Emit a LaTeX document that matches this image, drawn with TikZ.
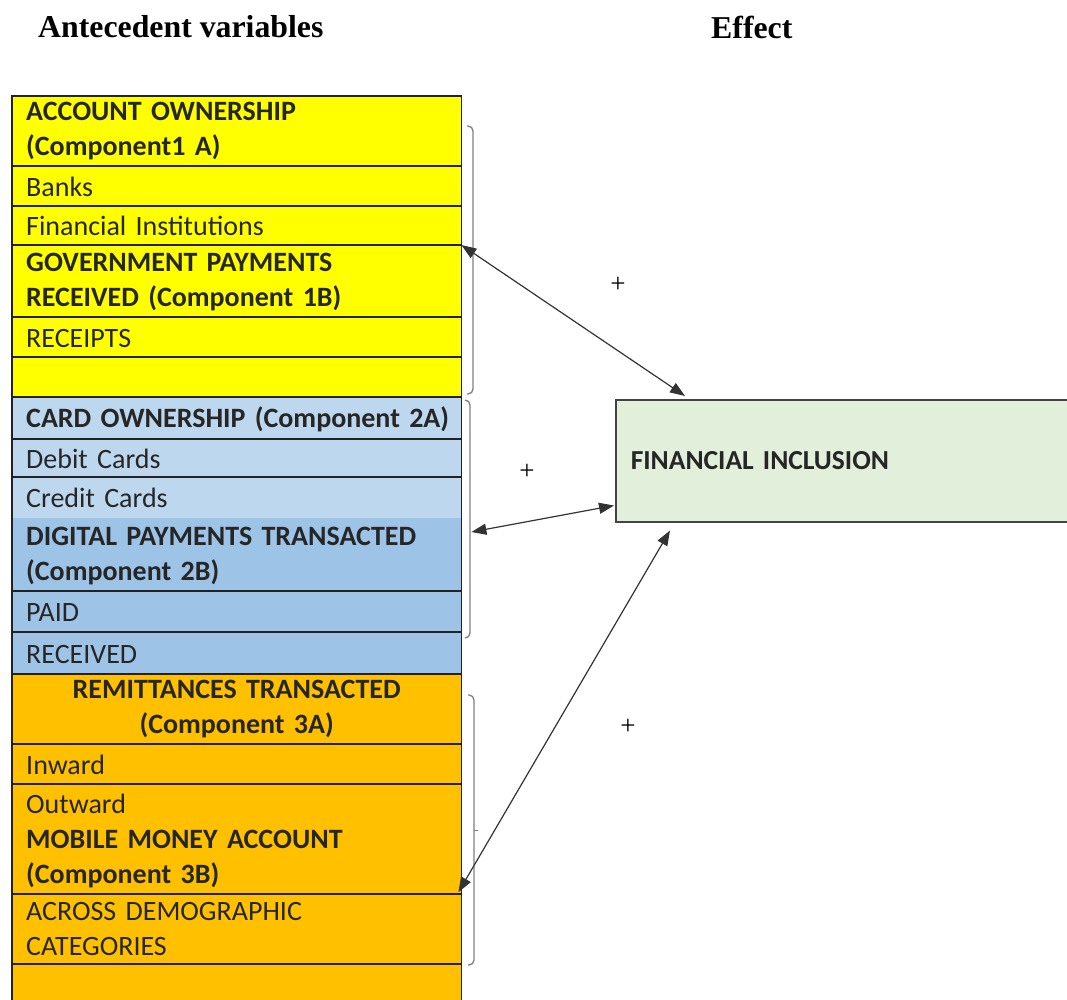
\documentclass[tikz,border=0pt]{standalone}
\usepackage{fontspec}
\setmainfont{Carlito}
\newfontfamily\headfont{Liberation Serif}
\usetikzlibrary{arrows.meta,calc}
\definecolor{yel}{HTML}{FFFF00}
\definecolor{lblue}{HTML}{BDD7EE}
\definecolor{mblue}{HTML}{9DC3E6}
\definecolor{orng}{HTML}{FFC000}
\definecolor{lgreen}{HTML}{E2EFDA}
\definecolor{txt}{HTML}{262626}
\definecolor{rule}{HTML}{222222}
\definecolor{brk}{HTML}{7F7F7F}
\definecolor{arrowc}{HTML}{333333}
\begin{document}
\begin{tikzpicture}[x=1pt,y=-1pt,
  cell/.style={anchor=north west, fill=#1, draw=none, inner xsep=14pt, inner ysep=0pt,
    text width=421pt, align=left, font=\fontsize{28}{35}\selectfont, text=txt},
  sep/.style={draw=rule, line width=1.5pt},
  bracket/.style={draw=brk, line width=1.3pt, rounded corners=5pt},
  conn/.style={{Triangle[length=15pt,width=11pt]}-{Triangle[length=15pt,width=11pt]},
    line width=1.2pt, draw=arrowc},
  plus/.style={font=\headfont\fontsize{27}{27}\selectfont, inner sep=0pt},
  head/.style={font=\headfont\bfseries\fontsize{31.8}{32}\selectfont, anchor=west, inner sep=0pt}]
\useasboundingbox (0,0) rectangle (1067,999);

% column headings
\node[head] (hA) at (38,27) {Antecedent variables};
\node[head] (hE) at (711,27) {Effect};

% colour bands of the three component groups
\fill[yel] (12,96) rectangle (461,397);
\fill[lblue] (12,397) rectangle (461,518);
\fill[mblue] (12,518) rectangle (461,674);
\fill[orng] (12,674) rectangle (461,1000);

% antecedent variables: one cell per row
\node[cell=yel, minimum height=70pt] (c1) at (12,96) {\textbf{ACCOUNT OWNERSHIP}\\\textbf{(Component1 A)}};
\node[cell=yel, minimum height=40pt] (c2) at (12,167) {Banks};
\node[cell=yel, minimum height=39pt] (c3) at (12,206) {Financial Institutions};
\node[cell=yel, minimum height=72pt] (c4) at (12,246) {\textbf{GOVERNMENT PAYMENTS}\\\textbf{RECEIVED (Component 1B)}};
\node[cell=yel, minimum height=38pt] (c5) at (12,319) {RECEIPTS};
\node[cell=yel, minimum height=40pt] (c6) at (12,357) {};
\node[cell=lblue, minimum height=40pt] (c7) at (12,399) {\mbox{\textbf{CARD OWNERSHIP (Component 2A)}}};
\node[cell=lblue, minimum height=36pt] (c8) at (12,441) {Debit Cards};
\node[cell=lblue, minimum height=41pt] (c9) at (12,477) {Credit Cards};
\node[cell=mblue, minimum height=71pt] (c10) at (12,520) {\textbf{DIGITAL PAYMENTS TRANSACTED}\\\textbf{(Component 2B)}};
\node[cell=mblue, minimum height=39pt] (c11) at (12,593) {PAID};
\node[cell=mblue, minimum height=40pt] (c12) at (12,634) {RECEIVED};
\node[cell=orng, minimum height=70pt, align=center] (c13) at (12,674) {\textbf{REMITTANCES TRANSACTED}\\\textbf{(Component 3A)}};
\node[cell=orng, minimum height=38pt] (c14) at (12,746) {Inward};
\node[cell=orng, minimum height=106pt] (c15) at (12,788) {Outward\\\textbf{MOBILE MONEY ACCOUNT}\\\textbf{(Component 3B)}};
\node[cell=orng, minimum height=70pt] (c16) at (12,894) {ACROSS DEMOGRAPHIC\\CATEGORIES};
\node[cell=orng, minimum height=36pt] (c17) at (12,964) {};

% row rules and outline of the table
\coordinate (s4) at (12,245);
\foreach \y in {166,206,245,317,357,397,439,477,591,632,674,744,784,894,964}
  \draw[sep] (12,\y) -- (461,\y);
\draw[sep] (c17.south west) -- (c1.north west) -- (c1.north east) -- (c17.south east);

% grouping brackets
\draw[bracket] (467,126) -- (473,126) -- (473,394) -- (467,394);
\draw[bracket] (465,400) -- (470,400) -- (470,638) -- (465,638);
\draw[bracket] (468,695) -- (474,695) -- (474,965) -- (468,965);
\draw[draw=brk, line width=1pt] (474,830) -- (478,830);

% effect
\node[anchor=north west, fill=lgreen, draw=rule!85, line width=1.5pt, minimum width=460pt,
  minimum height=122pt, inner xsep=15pt, text width=430pt, align=left,
  font=\bfseries\fontsize{27.5}{30}\selectfont, text=txt] (fi) at (615,399) {FINANCIAL INCLUSION};

% links between the components and financial inclusion
\draw[conn] (s4 -| c3.east) -- ($(fi.north west)+(70,-3)$);
\draw[conn] ($(c10.north east)+(10,12)$) -- ($(fi.south west)+(-1,-17)$);
\draw[conn] ($(c15.east)+(-3,51)$) -- ($(fi.south west)+(55,8)$);

% signs of the effects
\node[plus] (p1) at (618,285) {+};
\node[plus] (p2) at (527,472) {+};
\node[plus] (p3) at (628,727) {+};
\end{tikzpicture}
\end{document}
